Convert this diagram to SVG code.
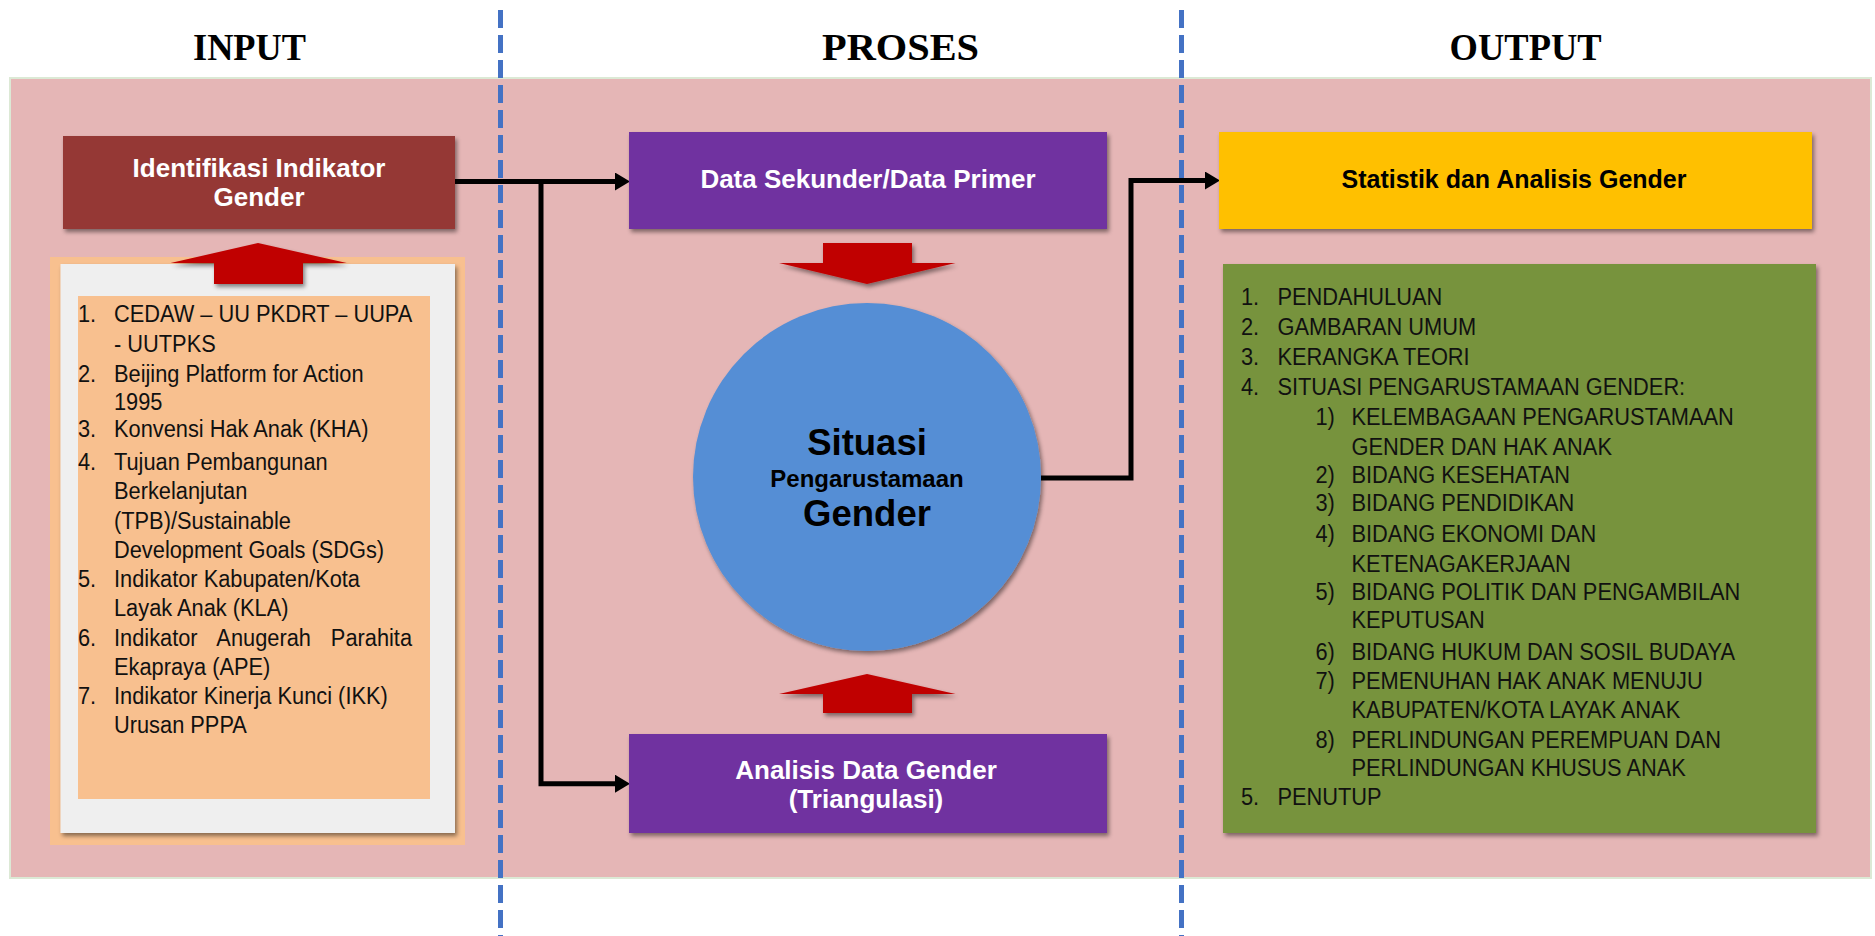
<svg xmlns="http://www.w3.org/2000/svg" width="1875" height="936" viewBox="0 0 1875 936">
<style>
.title{font-family:"Liberation Serif","Times New Roman",serif;font-weight:bold;font-size:37px;fill:#000;text-anchor:middle}
.box{font-family:"Liberation Sans",Arial,sans-serif;font-weight:bold;font-size:26px;fill:#fff;text-anchor:middle}
.lst{font-family:"Liberation Sans",Arial,sans-serif;font-size:23.5px;fill:#111}
.circ{font-family:"Liberation Sans",Arial,sans-serif;font-weight:bold;fill:#000;text-anchor:middle}
.conn{fill:none;stroke:#000;stroke-width:5;stroke-linejoin:miter}
.blk{fill:#C00000}
.div{stroke:#4472C4;stroke-width:5;stroke-dasharray:18 7;fill:none}
</style>
<defs>
<filter id="sh" x="-10%" y="-10%" width="125%" height="130%">
<feDropShadow dx="2" dy="3" stdDeviation="2" flood-color="#000" flood-opacity="0.45"/>
</filter>
<marker id="ah" markerUnits="userSpaceOnUse" markerWidth="15" markerHeight="18" refX="4" refY="9" orient="auto">
<path d="M0,0 L15,9 L0,18 z" fill="#000"/>
</marker>
</defs>
<rect width="1875" height="936" fill="#fff"/>
<g id="titles">
<text class="title" x="249.5" y="60" textLength="113" lengthAdjust="spacingAndGlyphs">INPUT</text>
<text class="title" x="900.5" y="60" textLength="157" lengthAdjust="spacingAndGlyphs">PROSES</text>
<text class="title" x="1525.6" y="60" textLength="152" lengthAdjust="spacingAndGlyphs">OUTPUT</text>
</g>
<rect id="background" x="10" y="78" width="1861" height="800" fill="#E5B6B6" stroke="#DCE9D5" stroke-width="2"/>
<g id="connectors">
<path class="conn" d="M455,181.5 H619" marker-end="url(#ah)"/>
<path class="conn" d="M541,181.5 V783.7 H619" marker-end="url(#ah)"/>
<path class="conn" d="M1041,478 H1131 V180.5 H1209" marker-end="url(#ah)"/>
</g>
<g id="node-input-list">
<rect x="50" y="257" width="415" height="588" fill="#F8C08F"/>
<rect x="60.5" y="264" width="394.5" height="569" fill="#EFEFEF" filter="url(#sh)"/>
<rect x="78" y="296" width="352" height="503" fill="#F8C08F"/>
<g class="lst" transform="translate(78 0) scale(0.928 1)">
<text x="0" y="321.7">1.</text><text x="38.8" y="321.7">CEDAW – UU PKDRT – UUPA</text>
<text x="38.8" y="351.7">- UUTPKS</text>
<text x="0" y="381.7">2.</text><text x="38.8" y="381.7">Beijing Platform for Action</text>
<text x="38.8" y="410">1995</text>
<text x="0" y="436.7">3.</text><text x="38.8" y="436.7">Konvensi Hak Anak (KHA)</text>
<text x="0" y="470">4.</text><text x="38.8" y="470">Tujuan Pembangunan</text>
<text x="38.8" y="499.3">Berkelanjutan</text>
<text x="38.8" y="529.3">(TPB)/Sustainable</text>
<text x="38.8" y="558.3">Development Goals (SDGs)</text>
<text x="0" y="587.3">5.</text><text x="38.8" y="587.3">Indikator Kabupaten/Kota</text>
<text x="38.8" y="616.5">Layak Anak (KLA)</text>
<text x="0" y="646.3">6.</text><text x="38.8" y="646.3" word-spacing="15">Indikator Anugerah Parahita</text>
<text x="38.8" y="675.3">Ekapraya (APE)</text>
<text x="0" y="703.7">7.</text><text x="38.8" y="703.7">Indikator Kinerja Kunci (IKK)</text>
<text x="38.8" y="732.7">Urusan PPPA</text>
</g>
</g>
<g id="arrow-input-up" filter="url(#sh)">
<path class="blk" d="M258,243 L346.7,263 H303 V284 H214 V263 H170.6 Z"/>
</g>
<g id="node-identifikasi">
<rect x="63" y="136" width="392" height="93" fill="#953735" filter="url(#sh)"/>
<text class="box" x="259" y="177">Identifikasi Indikator</text>
<text class="box" x="259" y="205.7">Gender</text>
</g>
<g id="node-data">
<rect x="629" y="132" width="478" height="97" fill="#7030A0" filter="url(#sh)"/>
<text class="box" x="868" y="188.3">Data Sekunder/Data Primer</text>
</g>
<g id="arrow-down" filter="url(#sh)">
<path class="blk" d="M823,243 H912 V263 H955.5 L867,284 L779,263 H823 Z"/>
</g>
<g id="node-situasi">
<circle cx="867" cy="477" r="174" fill="#558ED5" filter="url(#sh)"/>
<text class="circ" x="867" y="455" font-size="36.5">Situasi</text>
<text class="circ" x="867" y="487" font-size="24">Pengarustamaan</text>
<text class="circ" x="867" y="526" font-size="36.5">Gender</text>
</g>
<g id="arrow-up" filter="url(#sh)">
<path class="blk" d="M867,674 L955.5,694 H912 V713 H823 V694 H779 Z"/>
</g>
<g id="node-analisis">
<rect x="629" y="734" width="478" height="99" fill="#7030A0" filter="url(#sh)"/>
<text class="box" x="866" y="778.7">Analisis Data Gender</text>
<text class="box" x="866" y="808">(Triangulasi)</text>
</g>
<g id="node-statistik">
<rect x="1219" y="132" width="593" height="97" fill="#FFC000" filter="url(#sh)"/>
<text class="box" x="1514" y="188.3" style="fill:#000;font-size:25px">Statistik dan Analisis Gender</text>
</g>
<g id="node-output-list">
<rect x="1223" y="264" width="593" height="569" fill="#77933C" filter="url(#sh)"/>
<g class="lst" transform="translate(1241 0) scale(0.928 1)">
<text x="0" y="305">1.</text><text x="39.3" y="305">PENDAHULUAN</text>
<text x="0" y="335">2.</text><text x="39.3" y="335">GAMBARAN UMUM</text>
<text x="0" y="365">3.</text><text x="39.3" y="365">KERANGKA TEORI</text>
<text x="0" y="395">4.</text><text x="39.3" y="395">SITUASI PENGARUSTAMAAN GENDER:</text>
<text x="80.2" y="425">1)</text><text x="119.1" y="425">KELEMBAGAAN PENGARUSTAMAAN</text>
<text x="119.1" y="455">GENDER DAN HAK ANAK</text>
<text x="80.2" y="483">2)</text><text x="119.1" y="483">BIDANG KESEHATAN</text>
<text x="80.2" y="511.3">3)</text><text x="119.1" y="511.3">BIDANG PENDIDIKAN</text>
<text x="80.2" y="542">4)</text><text x="119.1" y="542">BIDANG EKONOMI DAN</text>
<text x="119.1" y="572">KETENAGAKERJAAN</text>
<text x="80.2" y="599.7">5)</text><text x="119.1" y="599.7">BIDANG POLITIK DAN PENGAMBILAN</text>
<text x="119.1" y="628">KEPUTUSAN</text>
<text x="80.2" y="659.7">6)</text><text x="119.1" y="659.7">BIDANG HUKUM DAN SOSIL BUDAYA</text>
<text x="80.2" y="688.7">7)</text><text x="119.1" y="688.7">PEMENUHAN HAK ANAK MENUJU</text>
<text x="119.1" y="718">KABUPATEN/KOTA LAYAK ANAK</text>
<text x="80.2" y="748">8)</text><text x="119.1" y="748">PERLINDUNGAN PEREMPUAN DAN</text>
<text x="119.1" y="776.3">PERLINDUNGAN KHUSUS ANAK</text>
<text x="0" y="805.3">5.</text><text x="39.3" y="805.3">PENUTUP</text>
</g>
</g>
<g id="dividers">
<line class="div" x1="500.5" y1="10" x2="500.5" y2="936"/>
<line class="div" x1="1181.5" y1="10" x2="1181.5" y2="936"/>
</g>
</svg>
